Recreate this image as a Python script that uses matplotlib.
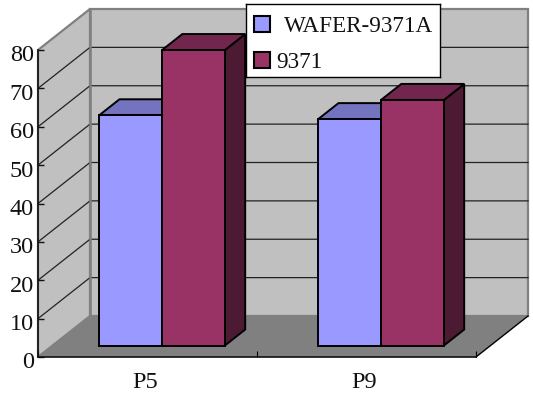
import matplotlib
matplotlib.use('Agg')
import matplotlib.pyplot as plt
from matplotlib.patches import Polygon, Rectangle
from matplotlib.transforms import ScaledTranslation

categories = ['P5', 'P9']
series_names = ['WAFER-9371A', '9371']
wafer_9371a = [60, 59]
s9371 = [77, 64]
yticks = [0, 10, 20, 30, 40, 50, 60, 70, 80]

W, H = 533, 399
plt.rcParams['font.family'] = ['Liberation Serif', 'DejaVu Serif']

fig = plt.figure(figsize=(W / 100, H / 100), dpi=100, facecolor='white')
# axes = front plane of the 3d box, pixels
ax = fig.add_axes([38 / W, (H - 357) / H, 438 / W, 307 / H])
ax.patch.set_visible(False)
ax.set_xlim(0, len(categories))
ax.set_ylim(0, 80)

# oblique projection: depth 0 = front, 1 = back wall
DX = 52 / 438 * len(categories)
DY = 41 / (307 / 80)


def proj(x, v, d):
    return (x + d * DX, v + d * DY)


def face(pts, fc, ec='black', lw=1.4, z=3):
    ax.add_patch(Polygon([proj(*p) for p in pts], closed=True, facecolor=fc, edgecolor=ec,
                         linewidth=lw, zorder=z, clip_on=False, joinstyle='miter'))


xmax = len(categories)
# walls and floor
face([(0, 0, 1), (xmax, 0, 1), (xmax, 80, 1), (0, 80, 1)], '#C0C0C0', '#808080', 1.6, 1)
face([(0, 0, 0), (0, 0, 1), (0, 80, 1), (0, 80, 0)], '#C0C0C0', '#808080', 1.6, 1)
face([(0, 0, 0), (xmax, 0, 0), (xmax, 0, 1), (0, 0, 1)], '#808080', 'none', 0, 1.1)

# gridlines
for t in yticks[1:-1]:
    xs, ys = zip(proj(0, t, 0), proj(0, t, 1), proj(xmax, t, 1))
    ax.plot(xs, ys, color='#222222', lw=0.9, zorder=1.5, clip_on=False)
xs, ys = zip(proj(0, 0, 1), proj(0, 80, 1))
ax.plot(xs, ys, color='#808080', lw=1.8, zorder=1.6, clip_on=False)
xs, ys = zip(proj(xmax, 0, 0), proj(xmax, 0, 1))
ax.plot(xs, ys, color='black', lw=1.0, zorder=1.6, clip_on=False)

# bars
bar_w = 0.287
d0, d1 = 0.28, 0.67
colors = [('#9999FF', '#7373BF', '#4D4D80'), ('#993366', '#73264D', '#4D1A33')]
z = 3
for i in range(len(categories)):
    for j, vals in enumerate([wafer_9371a, s9371]):
        x0 = i + 0.5 + (j - 1) * bar_w
        x1 = x0 + bar_w
        v = vals[i]
        front, top, side = colors[j]
        face([(x1, 0, d0), (x1, 0, d1), (x1, v, d1), (x1, v, d0)], side, z=z)
        face([(x0, v, d0), (x1, v, d0), (x1, v, d1), (x0, v, d1)], top, z=z)
        face([(x0, 0, d0), (x1, 0, d0), (x1, v, d0), (x0, v, d0)], front, z=z + 0.1)
        z += 0.2

# axes, ticks, labels
for s in ['top', 'right']:
    ax.spines[s].set_visible(False)
for s in ['left', 'bottom']:
    ax.spines[s].set_linewidth(1.2)
    ax.spines[s].set_color('#111111')
ax.set_yticks(yticks)
ax.set_xticks(range(len(categories) + 1))
ax.set_xticklabels([])
ax.set_xticks([i + 0.5 for i in range(len(categories))], minor=True)
ax.set_xticklabels(categories, minor=True)
ax.tick_params(axis='y', direction='in', length=4.5, width=1.0, labelsize=17.5, pad=3, colors='#111111')
ax.tick_params(axis='x', which='major', direction='in', length=4.5, width=0.8)
ax.tick_params(axis='x', which='minor', length=0, labelsize=17.5, pad=11, colors='#111111')

# nudge tick labels to where the reference has them
shift_y = ScaledTranslation(0, -2.5 / 72, fig.dpi_scale_trans)
for lab in ax.get_yticklabels():
    lab.set_transform(lab.get_transform() + shift_y)
shift_x = ScaledTranslation(-1.5 / 72, 0, fig.dpi_scale_trans)
for lab in ax.get_xticklabels(minor=True):
    lab.set_transform(lab.get_transform() + shift_x)

# legend box, placed by pixel
lg = fig.add_axes([246 / W, (H - 77) / H, 194 / W, 73 / H])
lg.set_xlim(246, 440)
lg.set_ylim(77, 4)
lg.set_xticks([])
lg.set_yticks([])
lg.set_zorder(10)
for s in lg.spines.values():
    s.set_linewidth(1.0)
for name, col, ky, tx in zip(series_names, ['#9999FF', '#993366'], [24, 60], [284, 276]):
    lg.add_patch(Rectangle((254, ky - 8), 16, 16, facecolor=col, edgecolor='black', linewidth=1.5))
    lg.text(tx, ky + 2.5, name, fontsize=16.7, va='center', ha='left', color='#111111')

fig.savefig('out.png', dpi=100)
